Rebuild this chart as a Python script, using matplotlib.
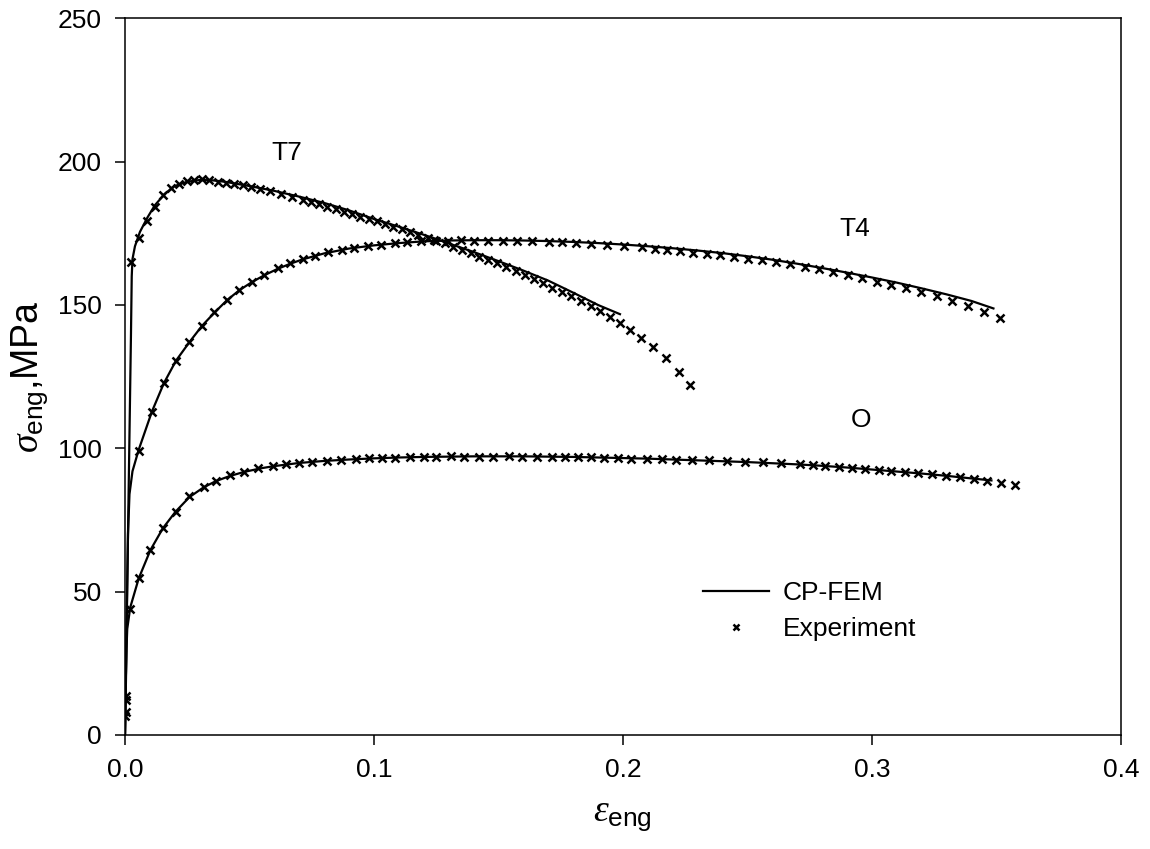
import numpy as np
import matplotlib
matplotlib.use("Agg")
import matplotlib.pyplot as plt

plt.rcParams['font.family'] = ['Liberation Sans', 'DejaVu Sans']
plt.rcParams['mathtext.fontset'] = 'custom'
plt.rcParams['mathtext.rm'] = 'Liberation Sans'
plt.rcParams['mathtext.it'] = 'Liberation Serif:italic'

# Experiment (markers)
t7_exp_x = [0.0002, 0.0025, 0.0058, 0.0089, 0.0121, 0.0152, 0.0183, 0.0215, 0.0248, 0.0279,
            0.0310, 0.0339, 0.0372, 0.0406, 0.0439, 0.0473, 0.0506, 0.0542, 0.0584, 0.0627,
            0.0669, 0.0713, 0.0747, 0.0780, 0.0813, 0.0847, 0.0878, 0.0911, 0.0945, 0.0978,
            0.1012, 0.1045, 0.1078, 0.1112, 0.1144, 0.1178, 0.1215, 0.1248, 0.1286, 0.1318,
            0.1353, 0.1389, 0.1422, 0.1459, 0.1495, 0.1531, 0.1569, 0.1605, 0.1643, 0.1679,
            0.1716, 0.1754, 0.1792, 0.1831, 0.1870, 0.1907, 0.1947, 0.1988, 0.2029, 0.2072,
            0.2120, 0.2171, 0.2227, 0.2268]
t7_exp_y = [13.6, 165.1, 173.2, 179.4, 184.3, 188.2, 190.7, 192.3, 193.1, 193.6,
            193.8, 193.5, 193.0, 192.6, 192.2, 191.7, 191.1, 190.4, 189.6, 188.7,
            187.8, 186.6, 185.9, 185.1, 184.3, 183.4, 182.5, 181.6, 180.8, 180.0,
            179.2, 178.3, 177.3, 176.4, 175.4, 174.3, 173.4, 172.4, 171.5, 170.3,
            169.2, 168.0, 166.8, 165.7, 164.5, 163.2, 161.8, 160.4, 159.0, 157.5,
            156.0, 154.5, 153.0, 151.4, 149.6, 147.9, 145.7, 143.7, 141.3, 138.6,
            135.3, 131.6, 126.5, 122.2]

t4_exp_x = [0.0002, 0.0055, 0.0108, 0.0156, 0.0205, 0.0259, 0.0310, 0.0359, 0.0410, 0.0459,
            0.0510, 0.0560, 0.0613, 0.0664, 0.0713, 0.0764, 0.0816, 0.0870, 0.0921, 0.0974,
            0.1028, 0.1085, 0.1134, 0.1188, 0.1241, 0.1299, 0.1349, 0.1402, 0.1459, 0.1519,
            0.1573, 0.1636, 0.1703, 0.1754, 0.1812, 0.1872, 0.1937, 0.2006, 0.2077, 0.2128,
            0.2177, 0.2228, 0.2280, 0.2338, 0.2391, 0.2445, 0.2502, 0.2558, 0.2615, 0.2672,
            0.2730, 0.2786, 0.2843, 0.2902, 0.2960, 0.3020, 0.3077, 0.3136, 0.3198, 0.3260,
            0.3320, 0.3385, 0.3449, 0.3513]
t4_exp_y = [12.3, 99.2, 112.8, 122.7, 130.6, 137.2, 142.8, 147.4, 151.7, 155.2,
            158.0, 160.4, 162.8, 164.5, 166.0, 167.2, 168.4, 169.3, 170.0, 170.6,
            171.0, 171.6, 172.0, 172.4, 172.6, 172.4, 172.6, 172.4, 172.4, 172.3,
            172.3, 172.3, 172.1, 172.0, 171.6, 171.3, 170.8, 170.6, 170.1, 169.6,
            169.2, 168.8, 168.3, 167.8, 167.4, 166.8, 166.1, 165.7, 164.9, 164.2,
            163.3, 162.5, 161.4, 160.3, 159.3, 158.1, 157.0, 155.8, 154.5, 153.1,
            151.4, 149.6, 147.6, 145.3]

o_exp_x = [0.0001, 0.0002, 0.0021, 0.0055, 0.0102, 0.0152, 0.0203, 0.0259, 0.0316, 0.0366,
           0.0423, 0.0479, 0.0536, 0.0593, 0.0647, 0.0700, 0.0751, 0.0810, 0.0867, 0.0927,
           0.0978, 0.1031, 0.1085, 0.1144, 0.1199, 0.1251, 0.1308, 0.1362, 0.1422, 0.1479,
           0.1542, 0.1596, 0.1656, 0.1714, 0.1767, 0.1820, 0.1870, 0.1923, 0.1980, 0.2033,
           0.2095, 0.2155, 0.2213, 0.2278, 0.2347, 0.2418, 0.2489, 0.2562, 0.2636, 0.2712,
           0.2763, 0.2813, 0.2866, 0.2919, 0.2973, 0.3027, 0.3077, 0.3134, 0.3187, 0.3243,
           0.3296, 0.3354, 0.3408, 0.3462, 0.3519, 0.3575]
o_exp_y = [6.6, 8.0, 43.8, 54.6, 64.5, 72.1, 77.9, 83.4, 86.6, 88.7,
           90.6, 91.8, 93.2, 93.8, 94.4, 95.0, 95.3, 95.7, 95.9, 96.3,
           96.5, 96.6, 96.7, 96.8, 97.1, 97.1, 97.4, 97.1, 97.1, 97.1,
           97.3, 97.1, 97.0, 97.1, 97.0, 97.0, 96.8, 96.7, 96.5, 96.4,
           96.3, 96.2, 95.9, 95.9, 95.8, 95.6, 95.3, 95.1, 94.8, 94.5,
           94.2, 93.8, 93.4, 93.0, 92.7, 92.4, 92.1, 91.8, 91.5, 91.0,
           90.4, 89.9, 89.2, 88.6, 88.0, 87.2]

# CP-FEM (lines)
t7_fem_x = [0.0, 0.0024, 0.0027, 0.003, 0.004, 0.006, 0.009, 0.012, 0.016, 0.020, 0.025,
            0.030, 0.035, 0.040, 0.050, 0.060, 0.070, 0.080, 0.090, 0.100, 0.110, 0.120,
            0.130, 0.140, 0.150, 0.160, 0.170, 0.180, 0.190, 0.1988]
t7_fem_y = [0.0, 140.0, 160.0, 166.0, 170.5, 175.5, 180.5, 184.8, 188.8, 191.5, 193.0,
            193.6, 193.5, 193.0, 191.5, 189.8, 187.8, 185.6, 183.0, 180.0, 177.3, 174.5,
            171.5, 168.5, 165.3, 162.0, 158.5, 154.3, 150.0, 146.8]

t4_fem_x = [0.0, 0.0012, 0.0018, 0.003, 0.0055, 0.0108, 0.0156, 0.0205, 0.026, 0.031,
            0.036, 0.041, 0.046, 0.051, 0.056, 0.0613, 0.0664, 0.0713, 0.080, 0.090,
            0.100, 0.110, 0.120, 0.130, 0.140, 0.150, 0.160, 0.170, 0.180, 0.190,
            0.200, 0.210, 0.220, 0.230, 0.240, 0.250, 0.260, 0.270, 0.280, 0.290,
            0.300, 0.310, 0.320, 0.330, 0.340, 0.3488]
t4_fem_y = [0.0, 70.0, 84.0, 92.0, 99.5, 112.8, 122.7, 130.6, 137.2, 142.8,
            147.4, 151.7, 155.2, 158.0, 160.4, 162.6, 164.4, 165.9, 168.0, 169.7,
            170.8, 171.6, 172.2, 172.5, 172.6, 172.6, 172.5, 172.3, 172.0, 171.6,
            171.1, 170.5, 169.8, 169.0, 168.1, 167.0, 165.8, 164.4, 162.9, 161.3,
            159.6, 157.8, 155.8, 153.7, 151.4, 148.8]

o_fem_x = [0.0, 0.0006, 0.0009, 0.0021, 0.0055, 0.0102, 0.0152, 0.0203, 0.0259, 0.0316,
           0.0366, 0.0423, 0.048, 0.055, 0.060, 0.070, 0.080, 0.090, 0.100, 0.110,
           0.120, 0.130, 0.140, 0.150, 0.160, 0.170, 0.180, 0.190, 0.200, 0.210,
           0.220, 0.230, 0.240, 0.250, 0.260, 0.270, 0.280, 0.290, 0.300, 0.310,
           0.320, 0.330, 0.340, 0.348]
o_fem_y = [0.0, 30.0, 37.0, 44.5, 54.6, 64.5, 72.1, 77.9, 83.0, 86.4,
           88.6, 90.4, 91.8, 93.1, 93.8, 94.9, 95.6, 96.1, 96.5, 96.8,
           97.0, 97.1, 97.2, 97.2, 97.2, 97.1, 97.0, 96.8, 96.6, 96.4,
           96.1, 95.8, 95.5, 95.2, 94.8, 94.4, 93.9, 93.3, 92.6, 91.9,
           91.2, 90.4, 89.5, 88.8]

curve_labels = ['T7', 'T4', 'O']
label_x = [0.0648, 0.2933, 0.2955]
label_y = [203.0, 176.4, 110.0]

fig = plt.figure(figsize=(11.5, 8.49), dpi=100)
ax = fig.add_axes([0.1087, 0.1343, 0.866, 0.8441])

mk = dict(marker='x', linestyle='none', color='black', markersize=5.5, markeredgewidth=1.8)
ln = dict(color='black', linewidth=1.6)

ax.plot(t7_fem_x, t7_fem_y, label='CP-FEM', **ln)
ax.plot(t4_fem_x, t4_fem_y, **ln)
ax.plot(o_fem_x, o_fem_y, **ln)
ax.plot(t7_exp_x, t7_exp_y, label='Experiment', **mk)
ax.plot(t4_exp_x, t4_exp_y, **mk)
ax.plot(o_exp_x, o_exp_y, **mk)

for name, lx, ly in zip(curve_labels, label_x, label_y):
    ax.text(lx, ly, name, fontsize=19, ha='center', va='center')

ax.set_xlim(0, 0.4)
ax.set_ylim(0, 250)
ax.set_xticks([0.0, 0.1, 0.2, 0.3, 0.4])
ax.set_xticklabels(['0.0', '0.1', '0.2', '0.3', '0.4'])
ax.set_yticks([0, 50, 100, 150, 200, 250])
ax.tick_params(direction='out', length=7.5, width=1.1, labelsize=19, pad=9)
for s in ax.spines.values():
    s.set_linewidth(1.1)

ax.set_xlabel(r'$\varepsilon_{\mathrm{eng}}$', fontsize=27, labelpad=11)
ax.set_ylabel(r'$\sigma_{\mathrm{eng}}$,MPa', fontsize=27, labelpad=6)

ax.legend(loc='upper left', bbox_to_anchor=(0.58, 0.215), frameon=False,
          fontsize=19, handlelength=2.5, handletextpad=0.55, borderpad=0,
          borderaxespad=0, labelspacing=0.45, markerscale=0.75)

plt.savefig('out.png', dpi=100)
